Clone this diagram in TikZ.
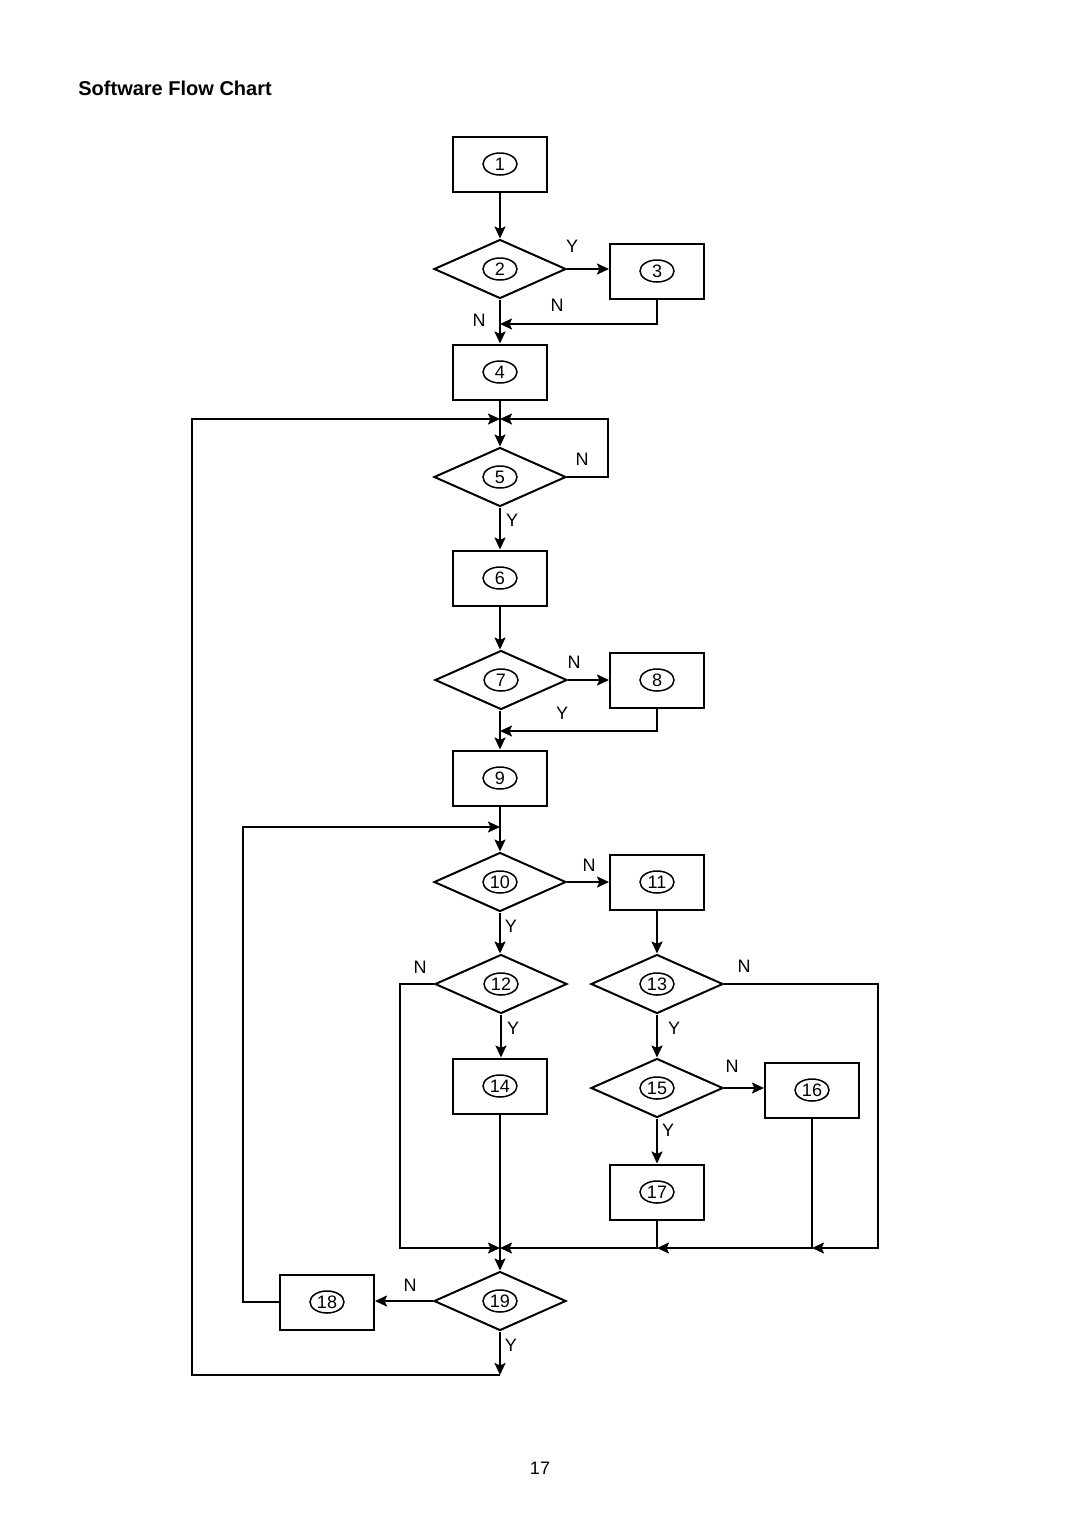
\documentclass[tikz,border=0pt]{standalone}
\usepackage{fontspec}
\setmainfont{Liberation Sans}
\usetikzlibrary{shapes.geometric,arrows.meta}
\begin{document}
\begin{tikzpicture}[x=0.5pt,y=-0.5pt,
  box/.style={draw,line width=1pt,minimum width=47pt,minimum height=27.5pt,inner sep=0pt,font=\fontsize{9}{10}\selectfont},
  dia/.style={draw,diamond,line width=1pt,minimum width=66pt,minimum height=29.5pt,inner sep=0pt,font=\fontsize{9}{10}\selectfont},
  arr/.style={line width=1pt,-{Stealth[length=6pt,width=5.5pt,inset=1.2pt]}},
  lab/.style={font=\fontsize{9}{10}\selectfont,inner sep=0pt},
  ring/.style={line width=0.75pt}
]
\fill[white] (0,0) rectangle (1080,1528);
\useasboundingbox (0,0) rectangle (1080,1528);

\node[anchor=west,font=\bfseries\fontsize{10}{12}\selectfont,inner sep=0pt] (title) at (78,88) {Software Flow Chart};
\node[lab] (page) at (540,1468) {17};

\node[box] (n1) at (500,164) {1};
\node[dia] (n2) at (500,269) {2};
\node[box] (n3) at (657,271) {3};
\node[box] (n4) at (500,372) {4};
\node[dia] (n5) at (500,477) {5};
\node[box] (n6) at (500,578) {6};
\node[dia] (n7) at (501,680) {7};
\node[box] (n8) at (657,680) {8};
\node[box] (n9) at (500,778) {9};
\node[dia] (n10) at (500,882) {10};
\node[box] (n11) at (657,882) {11};
\node[dia] (n12) at (501,984) {12};
\node[dia] (n13) at (657,984) {13};
\node[box] (n14) at (500,1086) {14};
\node[dia] (n15) at (657,1088) {15};
\node[box] (n16) at (812,1090) {16};
\node[box] (n17) at (657,1192) {17};
\node[box] (n18) at (327,1302) {18};
\node[dia] (n19) at (500,1301) {19};

\foreach \n in {1,...,19}
  \draw[ring] (n\n.center) ellipse [x radius=8.5pt, y radius=5.5pt];

% junction coordinates
\coordinate (j24) at (500,324);
\coordinate (j45) at (500,419);
\coordinate (c5r) at (608,419);
\coordinate (j78) at (500,731);
\coordinate (j910) at (500,827);
\coordinate (c18) at (243,827);
\coordinate (c12) at (400,1248);
\coordinate (m1) at (500,1248);
\coordinate (m2) at (657,1248);
\coordinate (m3) at (812,1248);
\coordinate (c13) at (878,1248);
\coordinate (c19b) at (500,1375);
\coordinate (c19l) at (192,1375);

% connectors
\draw[arr] (n1.south) -- (n2.north);
\draw[arr] (n2.east) -- (n2.east -| n3.west);
\draw[arr] (n3.south) |- (j24);
\draw[arr] (n2.south) -- (n4.north);
\draw[arr] (n4.south) -- (n5.north);
\draw[arr] (n5.east) -| (c5r) -- (j45);
\draw[arr] (n5.south) -- (n6.north);
\draw[arr] (n6.south) -- (n6.south |- n7.north);
\draw[arr] (n7.east) -- (n7.east -| n8.west);
\draw[arr] (n8.south) |- (j78);
\draw[arr] (j78 |- n7.south) -- (n9.north);
\draw[arr] (n9.south) -- (n10.north);
\draw[arr] (n10.east) -- (n10.east -| n11.west);
\draw[arr] (n11.south) -- (n13.north);
\draw[arr] (n10.south) -- (n10.south |- n12.north);
\draw[arr] (n12.south) -- (n12.south |- n14.north);
\draw[arr] (n13.south) -- (n15.north);
\draw[arr] (n15.east) -- (n15.east -| n16.west);
\draw[arr] (n15.south) -- (n17.north);
\draw[arr] (n12.west) -| (c12) -- (m1);
\draw[arr] (n17.south) |- (m1);
\draw[arr] (n16.south) |- (m2);
\draw[arr] (n13.east) -| (c13) -- (m3);
\draw[arr] (n14.south) -- (n19.north);
\draw[arr] (n19.west) -- (n19.west -| n18.east);
\draw[arr] (n18.west) -| (c18) -- (j910);
\draw[arr] (n19.south) -- (c19b);
\draw[arr] (c19b) -- (c19l) |- (j45);

% labels
\node[lab] (y2) at (572,246) {Y};
\node[lab] (n3l) at (557,305) {N};
\node[lab] (n2l) at (479,320) {N};
\node[lab] (n5l) at (582,459) {N};
\node[lab] (y5) at (512,520) {Y};
\node[lab] (n7l) at (574,662) {N};
\node[lab] (y7) at (562,713) {Y};
\node[lab] (n10l) at (589,865) {N};
\node[lab] (y10) at (511,926) {Y};
\node[lab] (n12l) at (420,967) {N};
\node[lab] (n13l) at (744,966) {N};
\node[lab] (y12) at (513,1028) {Y};
\node[lab] (y13) at (674,1028) {Y};
\node[lab] (n15l) at (732,1066) {N};
\node[lab] (y15) at (668,1130) {Y};
\node[lab] (n19l) at (410,1285) {N};
\node[lab] (y19) at (511,1345) {Y};
\end{tikzpicture}
\end{document}
